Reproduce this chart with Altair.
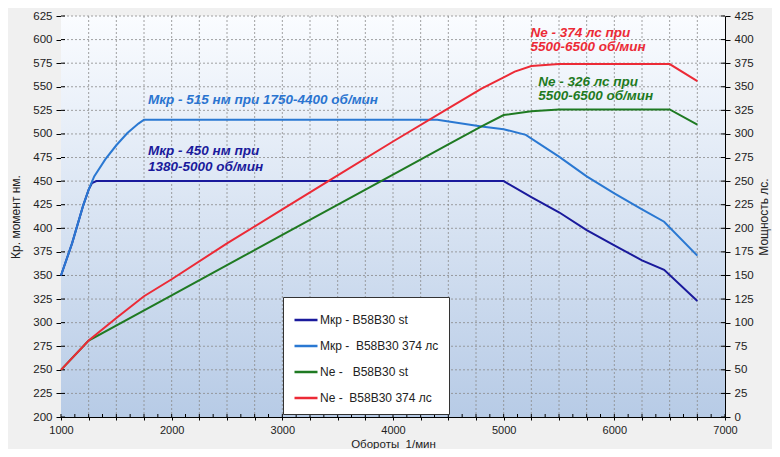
import altair as alt
import pandas as pd

# ---------------- data ----------------
SERIES = ["Мкр - B58B30 st", "Мкр - \u00a0B58B30 374 лс", "Ne - \u00a0\u00a0B58B30 st", "Ne - \u00a0B58B30 374 лс"]
COLORS = ["#1a1a9c", "#2a78d2", "#1f7a22", "#ec2a36"]

rpm_mkr_st = [1000, 1100, 1200, 1250, 1280, 1320, 5000, 5250, 5500, 5750, 6000, 6250, 6450, 6750]
mkr_st = [350, 384, 424, 441, 448, 450, 450, 433, 417, 398, 382, 366, 356, 323]

rpm_mkr_374 = [1000, 1100, 1200, 1250, 1300, 1400, 1500, 1600, 1700, 1750, 4400, 4800, 5000, 5200, 5500, 5750, 6000, 6250, 6450, 6750]
mkr_374 = [350, 384, 424, 441, 455, 473, 488, 501, 511, 515, 515, 508, 505, 499, 476, 455, 437, 420, 407, 371]

rpm_ne_st = [1000, 1250, 2000, 3000, 4000, 4500, 4800, 5000, 5250, 5500, 6500, 6750]
ne_st = [50, 81, 129, 193, 257, 289, 308, 320, 324, 326, 326, 310]

rpm_ne_374 = [1000, 1250, 1500, 1750, 2000, 2500, 3000, 3500, 4000, 4500, 4800, 5000, 5100, 5250, 5500, 6500, 6750]
ne_374 = [50, 81, 105, 128, 146, 184, 220, 256, 292, 327, 348, 360, 366, 372, 374, 374, 356]

x_ticks = list(range(1000, 7001, 250))
x_minor = list(range(1000, 7001, 125))
x_grid = list(range(1250, 6751, 250))
t_ticks = list(range(200, 626, 25))
t_grid = list(range(225, 626, 25))
p_ticks = list(range(0, 426, 25))

ann_blue = (["Мкр - 515 нм при 1750-4400 об/мин"], [1786], [531.7])
ann_navy = (["Мкр - 450 нм при", "1380-5000 об/мин"], [1786, 1786], [477.7, 461])
ann_red = (["Ne - 374 лс при", "5500-6500 об/мин"], [5243, 5243], [403, 388])
ann_green = (["Ne - 326 лс при", "5500-6500 об/мин"], [5312, 5312], [351, 336])

W, H = 664, 401
FONT = "Liberation Sans"

torque_df = pd.concat([
    pd.DataFrame({"rpm": rpm_mkr_st, "v": mkr_st, "series": SERIES[0]}),
    pd.DataFrame({"rpm": rpm_mkr_374, "v": mkr_374, "series": SERIES[1]}),
])
power_df = pd.concat([
    pd.DataFrame({"rpm": rpm_ne_st, "v": ne_st, "series": SERIES[2]}),
    pd.DataFrame({"rpm": rpm_ne_374, "v": ne_374, "series": SERIES[3]}),
])

# ---------------- scales / axes ----------------
xaxis = alt.Axis(values=x_ticks, format="d",
                 labelExpr="datum.value % 1000 === 0 ? datum.label : ''",
                 grid=False, tickSize=3, tickColor="black", domainColor="black",
                 labelFont=FONT, labelFontSize=11, labelColor="#222", labelPadding=4,
                 labelOverlap=False, labelFlush=False,
                 title="Обороты \u00a01/мин", titleFont=FONT, titleFontSize=11.5,
                 titleFontWeight="normal", titleColor="#222", titlePadding=3)
xscale = alt.Scale(domain=[1000, 7000], nice=False, zero=False)


def X(f):
    return alt.X(f, type="quantitative", scale=xscale, axis=xaxis)


taxis = alt.Axis(values=t_ticks, orient="left", grid=False, tickSize=5, tickColor="black",
                 domainColor="black", labelFont=FONT, labelFontSize=11.5, labelColor="#222",
                 labelPadding=4, labelOverlap=False,
                 title="Кр. момент нм.", titleFont=FONT, titleFontSize=12,
                 titleFontWeight="normal", titleColor="#222", titlePadding=10)
tscale = alt.Scale(domain=[200, 625], nice=False, zero=False)


def YT(f):
    return alt.Y(f, type="quantitative", scale=tscale, axis=taxis)


paxis = alt.Axis(values=p_ticks, orient="right", grid=False, tickSize=5, tickColor="black",
                 domainColor="black", labelFont=FONT, labelFontSize=11.5, labelColor="#222",
                 labelPadding=4, labelOverlap=False,
                 title="Мощность лс.", titleFont=FONT, titleFontSize=12, titleAngle=270,
                 titleBaseline="top",
                 titleFontWeight="normal", titleColor="#222", titlePadding=5)
pscale = alt.Scale(domain=[0, 425], nice=False, zero=False)


def YP(f):
    return alt.Y(f, type="quantitative", scale=pscale, axis=paxis)


legend = alt.Legend(orient="none", legendX=222, legendY=281, title=None,
                    fillColor="white", strokeColor="#333", padding=10,
                    symbolType="stroke", symbolSize=529, symbolStrokeWidth=2.5,
                    labelFont=FONT, labelFontSize=12, labelColor="#222",
                    rowPadding=7, labelOffset=1, cornerRadius=0)
color = alt.Color("series:N", scale=alt.Scale(domain=SERIES, range=COLORS), legend=legend)

# ---------------- layers ----------------
bg = alt.Chart(alt.Data(values=[{"k": 1}])).mark_rect(
    color=alt.Gradient(gradient="linear",
                       stops=[alt.GradientStop(color="#fafcff", offset=0),
                              alt.GradientStop(color="#b7cbe6", offset=1)],
                       x1=0, x2=0, y1=0, y2=1)
).encode(x=alt.value(0), x2=alt.value(W), y=alt.value(0), y2=alt.value(H))

gridx = alt.Chart(pd.DataFrame({"g": x_grid})).mark_rule(
    color="#8a8a8a", strokeDash=[2, 2], strokeWidth=0.8).encode(x=X("g"))

minor = alt.Chart(pd.DataFrame({"m": x_minor})).mark_rule(
    color="black", strokeWidth=1).encode(x=X("m"), y=alt.value(H - 3), y2=alt.value(H))

gridy = alt.Chart(pd.DataFrame({"g": t_grid})).mark_rule(
    color="#8a8a8a", strokeDash=[2, 2], strokeWidth=0.8).encode(y=YT("g"))

tick_l = alt.Chart(pd.DataFrame({"t": t_ticks})).mark_rule(color="black").encode(
    y=YT("t"), x=alt.value(0), x2=alt.value(4))
tick_r = alt.Chart(pd.DataFrame({"t": t_ticks})).mark_rule(color="black").encode(
    y=YT("t"), x=alt.value(W - 4), x2=alt.value(W))

t_lines = alt.Chart(torque_df).mark_line(strokeWidth=2).encode(
    x=X("rpm"), y=YT("v"), color=color)
p_lines = alt.Chart(power_df).mark_line(strokeWidth=2).encode(
    x=X("rpm"), y=YP("v"), color=color)


def ann(a, col, Yf):
    df = pd.DataFrame({"txt": a[0], "rpm": a[1], "v": a[2]})
    return alt.Chart(df).mark_text(align="left", baseline="alphabetic", font=FONT,
                                   fontSize=13.5, fontStyle="italic", fontWeight="bold",
                                   color=col).encode(x=X("rpm"), y=Yf("v"), text="txt:N")


torque = alt.layer(gridy, tick_l, tick_r, t_lines,
                   ann(ann_blue, "#2a74d0", YT), ann(ann_navy, "#1a1a9c", YT))
power = alt.layer(p_lines, ann(ann_red, "#ec2a36", YP), ann(ann_green, "#1f7a22", YP))

chart = alt.layer(bg, gridx, minor, torque, power).resolve_scale(y="independent").properties(
    width=W, height=H,
    autosize=alt.AutoSizeParams(type="none"),
    padding={"left": 53, "top": 8, "right": 47, "bottom": 32},
    background="#f0f0f0",
).configure_view(stroke=None)

chart.save("out.html", embed_options={"renderer": "svg", "actions": False})
